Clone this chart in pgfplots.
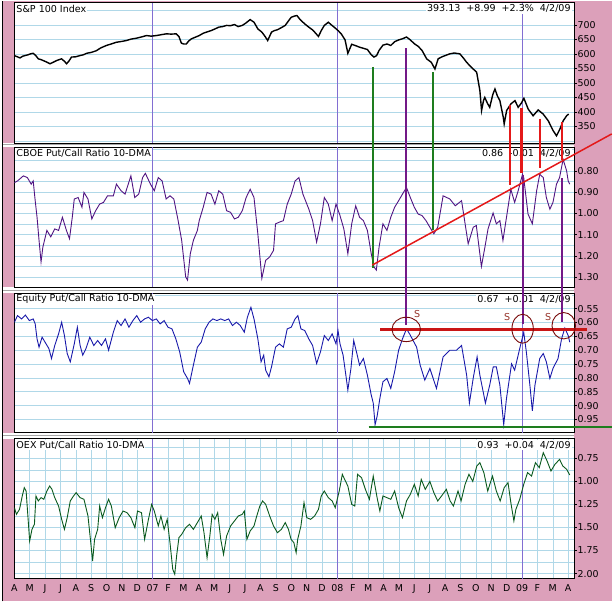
\documentclass[border=0pt]{standalone}
\usepackage{pgfplots}
\pgfplotsset{compat=1.18}
\usepackage{fontspec}
\setmainfont{DejaVu Sans}
\definecolor{pinkbg}{RGB}{220,160,186}
\definecolor{gridcol}{RGB}{176,216,232}
\definecolor{yearcol}{RGB}{130,110,210}
\definecolor{cboecol}{RGB}{80,20,130}
\definecolor{eqcol}{RGB}{25,25,170}
\definecolor{oexcol}{RGB}{10,90,30}
\definecolor{annred}{RGB}{228,25,25}
\definecolor{anngreen}{RGB}{30,125,30}
\definecolor{annpurple}{RGB}{115,25,135}
\definecolor{circcol}{RGB}{120,10,10}
\definecolor{scol}{RGB}{150,50,40}
\pgfplotsset{
 panel/.style={
  scale only axis, width=561.2bp, xmin=0, xmax=36.4,
  axis background/.style={fill=white},
  xtick=\empty, minor xtick={0,...,36}, xtick style={draw=none},
  grid=both,
  major grid style={draw=gridcol, line width=0.6bp},
  minor grid style={draw=gridcol, line width=0.6bp},
  ytick pos=right, yticklabel pos=right, tick align=outside,
  major tick length=2.5bp, minor tick length=0pt,
  ytick style={black, line width=0.6bp},
  axis line style={black, line width=0.8bp},
  tick label style={font=\fontsize{9.5}{11}\selectfont},
  yticklabel style={inner sep=0.5bp},
  scaled ticks=false,
  /pgf/number format/assume math mode=true,
 },
 ratio/.style={y dir=reverse,
  /pgf/number format/fixed, /pgf/number format/fixed zerofill, /pgf/number format/precision=2},
}
\newcommand{\tf}{\fontsize{9.6}{11}\selectfont}
\newcommand{\yearlines}[2]{%
  \draw[yearcol, line width=0.7bp] (axis cs:9,#1) -- (axis cs:9,#2);
  \draw[yearcol, line width=0.7bp] (axis cs:21,#1) -- (axis cs:21,#2);
  \draw[yearcol, line width=0.7bp] (axis cs:33,#1) -- (axis cs:33,#2);}
\begin{document}
\begin{tikzpicture}
\begin{scope}[x=1bp,y=1bp]
\useasboundingbox (0,0) rectangle (613,602);
\fill[pinkbg] (0,0) rectangle (613,602);
\fill[white] (0,455.3) rectangle (575.5,459.3);
\fill[white] (0,309) rectangle (575.5,314.7);
\fill[white] (0,163) rectangle (575.5,169);
\draw[black!35, line width=0.5bp] (0,457.6) -- (575.5,457.6);
\draw[black!35, line width=0.5bp] (0,312.2) -- (575.5,312.2);
\draw[black!35, line width=0.5bp] (0,166.3) -- (575.5,166.3);
\end{scope}

% ---------- S&P 100 ----------
\begin{axis}[panel, name=p1, at={(14.3bp,459.3bp)}, anchor=south west, height=140.7bp,
  ymin=293.2, ymax=776.6, ytick={350,400,450,500,550,600,650,700}, minor ytick={300,750}]
\yearlines{293.2}{776.6}
\addplot[black, line width=1.4bp] coordinates {
(0,594)(0.2,590)(0.37,586)(0.55,592)(0.69,594)(0.9,597)(1.05,600)(1.23,602)(1.4,594)(1.56,583)(1.75,580)(1.88,577)(2.1,572)(2.32,566)(2.53,571)(2.75,577)(3.07,583)(3.25,575)(3.4,566)(3.55,575)(3.72,589)(4,590)(4.26,594)(4.5,597)(4.7,602)(5,605)(5.34,611)(5.6,620)(5.99,629)(6.3,634)(6.64,640)(7,643)(7.29,646)(7.6,651)(7.94,654)(8.25,658)(8.59,663)(8.9,661)(9.23,663)(9.55,666)(9.88,669)(10.2,668)(10.53,669)(10.7,660)(10.86,637)(11.0,634)(11.18,634)(11.35,645)(11.52,652)(11.75,657)(12.02,663)(12.28,671)(12.5,675)(12.79,680)(13.05,686)(13.29,692)(13.55,694)(13.8,698)(14.05,697)(14.31,701)(14.55,694)(14.82,698)(15.05,706)(15.33,718)(15.58,709)(15.83,686)(16.09,675)(16.3,660)(16.47,646)(16.72,675)(16.9,680)(17.1,683)(17.35,690)(17.61,698)(17.8,712)(18.0,726)(18.2,730)(18.37,732)(18.55,720)(18.76,709)(18.95,700)(19.14,692)(19.35,684)(19.52,675)(19.77,660)(19.95,680)(20.15,698)(20.41,709)(20.6,700)(20.79,692)(21.05,680)(21.25,669)(21.5,648)(21.68,602)(21.93,633)(22.2,628)(22.44,623)(22.7,619)(22.95,615)(23.2,597)(23.38,589)(23.55,594)(23.71,612)(23.96,630)(24.22,634)(24.47,629)(24.72,642)(24.98,648)(25.23,652)(25.49,658)(25.74,648)(26.0,635)(26.25,626)(26.5,612)(26.8,583)(27.1,571)(27.34,548)(27.55,583)(27.8,590)(28.0,594)(28.3,600)(28.6,603)(28.96,600)(29.2,585)(29.4,571)(29.7,554)(30.05,537)(30.26,474)(30.37,405)(30.5,440)(30.58,450)(30.75,430)(30.9,416)(31.1,460)(31.24,479)(31.4,455)(31.56,439)(31.78,382)(31.84,359)(32,405)(32.28,428)(32.54,439)(32.75,416)(32.95,430)(33.12,447)(33.4,410)(33.72,387)(34.05,407)(34.37,393)(34.7,370)(35.02,336)(35.24,318)(35.46,341)(35.68,370)(35.9,387)(36.03,393)
};
\end{axis}
\node[anchor=west, fill=white, inner sep=1bp, font=\tf] at ([xshift=1bp,yshift=-6.3bp]p1.north west) {S\&P 100 Index};
\node[anchor=east, fill=white, inner sep=1bp, font=\tf] at ([xshift=-2.5bp,yshift=-6.3bp]p1.north east) {393.13\hspace{6bp}+8.99\hspace{6bp}+2.3\%\hspace{6bp}4/2/09};

% ---------- CBOE ----------
\begin{axis}[panel, ratio, name=p2, at={(14.3bp,314.7bp)}, anchor=south west, height=140.6bp,
  ymin=0.687, ymax=1.348, ytick={0.8,0.9,1.0,1.1,1.2,1.3}, minor ytick={0.7,0.75,0.85,0.95,1.05,1.15,1.25}]
\yearlines{0.687}{1.348}
\addplot[cboecol, line width=0.9bp] coordinates {
(0.01,0.855)(0.21,0.847)(0.59,0.823)(0.85,0.831)(1.10,0.862)(1.23,0.847)(1.36,0.94)(1.48,1.018)(1.61,1.127)(1.74,1.228)(1.86,1.158)(2.12,1.08)(2.37,1.11)(2.63,1.073)(2.88,1.08)(3.13,1.018)(3.39,1.08)(3.59,1.119)(3.77,1.018)(3.90,0.932)(4.15,0.925)(4.40,0.971)(4.53,0.901)(4.79,0.932)(5.04,1.026)(5.29,0.987)(5.55,0.956)(5.80,0.948)(6.06,0.917)(6.44,0.917)(6.64,0.862)(6.94,0.893)(7.20,0.909)(7.58,0.823)(7.83,0.925)(8.09,0.909)(8.34,0.831)(8.52,0.811)(8.85,0.862)(9.10,0.893)(9.36,0.831)(9.61,0.847)(9.87,0.932)(10.12,0.917)(10.37,0.932)(10.63,1.026)(10.88,1.127)(11.14,1.299)(11.26,1.314)(11.44,1.19)(11.64,1.127)(11.90,1.08)(12.02,1.034)(12.28,0.971)(12.53,0.901)(12.79,0.909)(13.04,0.956)(13.29,0.893)(13.55,0.909)(13.80,0.987)(14.06,0.995)(14.31,1.026)(14.56,1.018)(14.82,0.987)(15.07,0.925)(15.33,0.886)(15.58,0.925)(15.83,1.096)(16.09,1.306)(16.34,1.221)(16.60,1.205)(16.85,1.174)(16.98,1.049)(17.23,1.041)(17.49,1.034)(17.74,0.956)(18.0,0.909)(18.25,0.847)(18.50,0.831)(18.76,0.909)(19.14,0.979)(19.39,1.034)(19.65,1.135)(19.90,1.049)(20.15,0.925)(20.41,0.956)(20.66,1.034)(20.91,0.956)(21.17,1.01)(21.42,1.073)(21.68,1.19)(21.93,1.049)(22.19,0.964)(22.44,1.018)(22.69,1.034)(22.95,1.08)(23.2,1.19)(23.38,1.252)(23.53,1.267)(23.71,1.158)(23.96,1.049)(24.22,1.08)(24.47,1.018)(24.72,0.971)(24.98,0.94)(25.23,0.909)(25.49,0.878)(25.74,0.925)(26.0,0.971)(26.25,1.003)(26.5,1.01)(26.76,1.034)(27.01,1.065)(27.27,1.096)(27.52,1.065)(27.87,0.917)(28.31,0.932)(28.66,0.964)(29.07,0.94)(29.50,1.143)(29.83,1.065)(30.03,1.057)(30.36,1.25)(30.59,1.158)(30.79,1.073)(31.12,0.998)(31.33,1.049)(31.56,1.034)(31.76,1.127)(31.99,1.018)(32.27,0.886)(32.52,0.948)(32.75,0.893)(33.03,0.816)(33.11,0.831)(33.39,1.003)(33.67,1.049)(33.95,0.893)(34.15,0.816)(34.38,0.831)(34.58,0.925)(34.81,0.98)(35.01,0.948)(35.24,0.862)(35.44,0.831)(35.67,0.745)(35.90,0.80)(36.0,0.847)(36.1,0.862)
};
\end{axis}
\node[anchor=west, fill=white, inner sep=1bp, font=\tf] at ([xshift=1bp,yshift=-6.3bp]p2.north west) {CBOE Put/Call Ratio 10-DMA};
\node[anchor=east, fill=white, inner sep=1bp, font=\tf] at ([xshift=-2.5bp,yshift=-6.3bp]p2.north east) {0.86\hspace{6bp}-0.01\hspace{6bp}4/2/09};

% ---------- Equity ----------
\begin{axis}[panel, ratio, name=p3, at={(14.3bp,169bp)}, anchor=south west, height=140bp,
  ymin=0.4934, ymax=0.998, ytick={0.55,0.6,0.65,0.7,0.75,0.8,0.85,0.9,0.95}, minor ytick={0.5}]
\yearlines{0.4934}{0.998}
\addplot[eqcol, line width=0.9bp] coordinates {
(0.01,0.599)(0.21,0.575)(0.47,0.587)(0.72,0.573)(0.98,0.593)(1.23,0.587)(1.36,0.605)(1.48,0.659)(1.61,0.689)(1.81,0.653)(2.0,0.671)(2.25,0.694)(2.42,0.73)(2.63,0.683)(2.88,0.641)(3.08,0.599)(3.26,0.647)(3.44,0.712)(3.64,0.742)(3.90,0.677)(4.10,0.617)(4.28,0.683)(4.45,0.718)(4.66,0.694)(4.91,0.653)(5.17,0.683)(5.42,0.665)(5.67,0.683)(5.93,0.659)(6.13,0.70)(6.44,0.635)(6.69,0.593)(6.94,0.611)(7.20,0.587)(7.45,0.617)(7.71,0.593)(7.96,0.575)(8.21,0.599)(8.47,0.587)(8.72,0.581)(8.98,0.593)(9.23,0.587)(9.48,0.605)(9.74,0.593)(9.99,0.617)(10.25,0.623)(10.50,0.659)(10.75,0.706)(11.01,0.778)(11.26,0.802)(11.39,0.82)(11.64,0.754)(11.90,0.689)(12.15,0.671)(12.41,0.623)(12.66,0.599)(12.91,0.587)(13.17,0.593)(13.42,0.587)(13.68,0.593)(13.93,0.587)(14.18,0.611)(14.44,0.599)(14.69,0.611)(14.95,0.635)(15.15,0.581)(15.38,0.545)(15.58,0.587)(15.83,0.659)(16.04,0.742)(16.21,0.718)(16.34,0.772)(16.55,0.796)(16.72,0.76)(16.98,0.689)(17.23,0.677)(17.49,0.689)(17.74,0.623)(18.0,0.617)(18.25,0.587)(18.43,0.575)(18.63,0.623)(18.88,0.629)(19.14,0.659)(19.39,0.683)(19.65,0.748)(19.90,0.706)(20.15,0.647)(20.41,0.665)(20.66,0.641)(20.91,0.677)(21.04,0.629)(21.17,0.677)(21.37,0.718)(21.55,0.79)(21.68,0.844)(21.88,0.766)(22.06,0.665)(22.24,0.706)(22.44,0.754)(22.69,0.73)(22.95,0.79)(23.2,0.862)(23.33,0.891)(23.45,0.969)(23.58,0.939)(23.76,0.874)(23.96,0.814)(24.22,0.802)(24.47,0.838)(24.72,0.778)(24.98,0.70)(25.23,0.659)(25.49,0.623)(25.69,0.641)(25.92,0.665)(26.15,0.689)(26.38,0.754)(26.68,0.808)(27.01,0.766)(27.44,0.838)(27.87,0.724)(28.31,0.70)(28.74,0.70)(29.07,0.683)(29.40,0.79)(29.58,0.891)(29.83,0.80)(30.08,0.724)(30.26,0.79)(30.62,0.891)(30.90,0.826)(31.13,0.76)(31.33,0.76)(31.56,0.826)(31.81,0.969)(31.99,0.874)(32.32,0.749)(32.52,0.772)(32.85,0.694)(33.11,0.635)(33.28,0.706)(33.51,0.826)(33.67,0.919)(33.84,0.826)(34.15,0.73)(34.38,0.712)(34.58,0.742)(34.81,0.802)(35.01,0.766)(35.34,0.73)(35.57,0.659)(35.78,0.620)(36.0,0.647)(36.1,0.671)
};
\end{axis}
\node[anchor=west, fill=white, inner sep=1bp, font=\tf] at ([xshift=1bp,yshift=-6.3bp]p3.north west) {Equity Put/Call Ratio 10-DMA};
\node[anchor=east, fill=white, inner sep=1bp, font=\tf] at ([xshift=-2.5bp,yshift=-6.3bp]p3.north east) {0.67\hspace{6bp}+0.01\hspace{6bp}4/2/09};

% ---------- OEX ----------
\begin{axis}[panel, ratio, name=p4, at={(14.3bp,22.7bp)}, anchor=south west, height=140.3bp,
  ymin=0.537, ymax=2.055, ytick={0.75,1,1.25,1.5,1.75,2}, minor ytick={0.625,0.875,1.125,1.375,1.625,1.875},
  xtick={0,...,36},
  xticklabels={A,M,J,J,A,S,O,N,D,07,F,M,A,M,J,J,A,S,O,N,D,08,F,M,A,M,J,J,A,S,O,N,D,09,F,M,A}]
\yearlines{0.537}{2.055}
\addplot[oexcol, line width=0.9bp] coordinates {
(0.01,1.285)(0.14,1.357)(0.34,1.303)(0.52,1.158)(0.65,1.068)(0.77,1.104)(0.90,1.411)(1.0,1.646)(1.15,1.52)(1.31,1.465)(1.41,1.158)(1.56,1.212)(1.74,1.176)(1.92,1.194)(2.12,1.104)(2.30,1.05)(2.45,1.086)(2.63,1.176)(2.88,1.267)(3.08,1.411)(3.26,1.52)(3.44,1.393)(3.64,1.212)(3.85,1.158)(4.02,1.122)(4.28,1.176)(4.53,1.194)(4.79,1.375)(4.96,1.646)(5.09,1.863)(5.22,1.628)(5.42,1.52)(5.55,1.267)(5.73,1.393)(5.93,1.285)(6.13,1.194)(6.31,1.267)(6.56,1.502)(6.82,1.393)(7.07,1.321)(7.33,1.339)(7.58,1.393)(7.84,1.502)(8.01,1.321)(8.27,1.339)(8.47,1.628)(8.72,1.411)(8.93,1.249)(9.10,1.321)(9.36,1.483)(9.53,1.375)(9.74,1.52)(9.94,1.411)(10.12,1.664)(10.30,1.953)(10.43,2.007)(10.55,1.809)(10.70,1.61)(10.88,1.574)(11.14,1.502)(11.39,1.465)(11.64,1.52)(11.90,1.447)(12.15,1.375)(12.33,1.556)(12.53,1.827)(12.71,1.592)(12.86,1.357)(13.04,1.411)(13.22,1.339)(13.42,1.628)(13.60,1.791)(13.80,1.592)(14.06,1.483)(14.31,1.429)(14.56,1.375)(14.82,1.357)(14.95,1.321)(15.12,1.628)(15.33,1.538)(15.58,1.483)(15.76,1.375)(15.96,1.267)(16.14,1.212)(16.34,1.249)(16.60,1.375)(16.85,1.483)(17.10,1.556)(17.36,1.52)(17.61,1.447)(17.82,1.52)(17.99,1.628)(18.17,1.664)(18.32,1.773)(18.42,1.628)(18.63,1.483)(18.83,1.23)(19.01,1.393)(19.26,1.411)(19.52,1.375)(19.77,1.303)(19.95,1.158)(20.15,1.104)(20.41,1.176)(20.66,1.212)(20.86,1.285)(21.12,1.104)(21.32,0.923)(21.47,0.978)(21.68,1.05)(21.93,1.249)(22.13,1.267)(22.31,0.923)(22.57,0.96)(22.82,1.086)(23.08,1.194)(23.33,0.942)(23.58,1.176)(23.76,1.321)(23.96,1.158)(24.22,1.176)(24.47,1.194)(24.72,1.104)(24.98,1.285)(25.23,1.393)(25.49,1.212)(25.74,1.14)(26.0,1.032)(26.25,1.158)(26.45,0.978)(26.71,1.086)(27.01,1.0)(27.27,1.122)(27.52,1.212)(27.77,1.158)(28.08,1.086)(28.33,1.212)(28.54,1.267)(28.84,1.104)(29.04,1.212)(29.30,1.032)(29.55,0.923)(29.80,1.0)(30.06,0.833)(30.26,0.797)(30.52,0.905)(30.77,1.104)(31.08,0.942)(31.33,1.104)(31.58,1.212)(31.84,1.068)(32.09,1.014)(32.29,1.249)(32.47,1.429)(32.60,1.303)(32.85,1.194)(33.11,1.032)(33.36,0.905)(33.62,0.942)(33.87,0.797)(34.12,0.851)(34.38,0.689)(34.63,0.779)(34.88,0.887)(35.14,0.815)(35.44,0.761)(35.65,0.833)(35.90,0.869)(36.1,0.93)
};
\end{axis}
\node[anchor=west, fill=white, inner sep=1bp, font=\tf] at ([xshift=1bp,yshift=-6.3bp]p4.north west) {OEX Put/Call Ratio 10-DMA};
\node[anchor=east, fill=white, inner sep=1bp, font=\tf] at ([xshift=-2.5bp,yshift=-6.3bp]p4.north east) {0.93\hspace{6bp}+0.04\hspace{6bp}4/2/09};

% ---------- frame strip and annotations ----------
\begin{scope}[x=1bp,y=1bp]
\fill[pinkbg] (2.6,459.4) rectangle (13.7,602);
\fill[pinkbg] (2.6,314.8) rectangle (13.7,455.2);
\fill[pinkbg] (2.6,169.1) rectangle (13.7,308.9);
\fill[pinkbg] (2.6,22.8) rectangle (13.7,162.9);
\fill[white] (0,0) rectangle (1.8,602);
\draw[black, line width=1.2bp] (2.4,0) -- (2.4,602);
\draw[anngreen, line width=2.5bp] (373.7,535.7) -- (373.7,334.3);
\draw[anngreen, line width=2.5bp] (433.7,530.3) -- (433.7,372);
\draw[annpurple, line width=2.8bp] (406.9,554) -- (406.9,277);
\draw[annpurple, line width=2.8bp] (524,427) -- (524,277.7);
\draw[annpurple, line width=2.8bp] (563.2,424) -- (563.2,279.7);
\draw[annred, line width=2.2bp] (511,497.7) -- (511,417);
\draw[annred, line width=2.2bp] (522.6,494.7) -- (522.6,429.7);
\draw[annred, line width=2.2bp] (540.8,483.7) -- (540.8,434.3);
\draw[annred, line width=2.2bp] (563,480.3) -- (563,442);
\draw[annred, line width=1.5bp] (373,337) -- (613,468.4);
\draw[annred!88!black, line width=2.6bp] (381.2,272.7) -- (588.4,272.7);
\draw[anngreen, line width=2.5bp] (369.4,174.7) -- (613,174.7);
\draw[circcol, line width=0.9bp] (407.1,272.5) ellipse (14.3 and 12.2);
\draw[circcol, line width=0.9bp] (523.7,273.2) ellipse (10.7 and 14.5);
\draw[circcol, line width=0.9bp] (564.9,276.2) ellipse (11.8 and 13.2);
\node[scol, font=\tf, inner sep=0] at (418,287.7) {S};
\node[scol, font=\tf, inner sep=0] at (508.2,285.3) {S};
\node[scol, font=\tf, inner sep=0] at (549.3,285.3) {S};
\end{scope}
\end{tikzpicture}
\end{document}
